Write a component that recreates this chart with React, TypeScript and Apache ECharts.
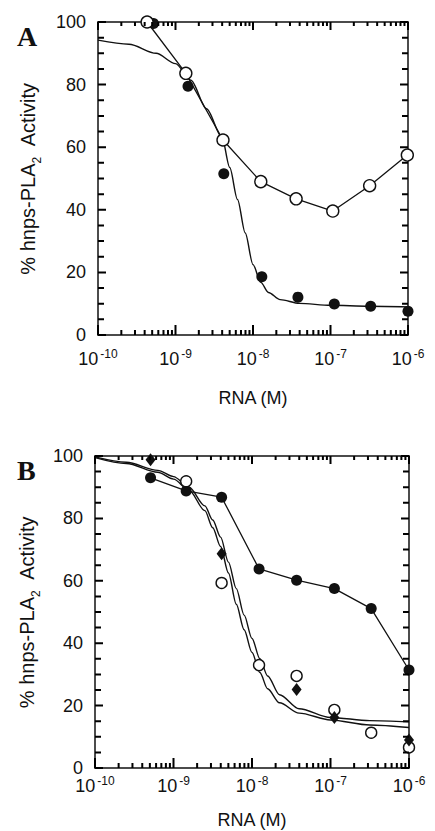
import React, { useEffect, useRef } from "react";
import * as echarts from "echarts";

// ---------- Panel A ----------
const aFilledConc = [5.2e-10, 1.45e-9, 4.2e-9, 1.3e-8, 3.8e-8, 1.12e-7, 3.3e-7, 1.0e-6];
const aFilledAct = [99.5, 79.5, 51.5, 18.6, 12.1, 9.9, 9.2, 7.6];
const aOpenConc = [4.3e-10, 1.36e-9, 4.1e-9, 1.26e-8, 3.6e-8, 1.07e-7, 3.2e-7, 9.8e-7];
const aOpenAct = [100, 83.6, 62.3, 49.0, 43.5, 39.6, 47.7, 57.5];
const aFitConc = [1e-10, 2.51e-10, 5.62e-10, 1e-9, 1.58e-9, 2.51e-9, 3.98e-9, 5.01e-9, 6.31e-9, 7.94e-9, 1e-8, 1.26e-8, 1.58e-8, 2.24e-8, 3.98e-8, 1e-7, 3.16e-7, 1e-6];
const aFitAct = [94.2, 92.9, 90.0, 86.7, 81.4, 72.3, 63.2, 53.5, 43.3, 32.6, 22.5, 16.8, 13.6, 11.3, 10.1, 9.5, 9.2, 9.0];

// ---------- Panel B ----------
const bFilledConc = [5.1e-10, 1.45e-9, 4.1e-9, 1.23e-8, 3.7e-8, 1.12e-7, 3.3e-7, 1.0e-6];
const bFilledAct = [93.0, 88.8, 86.8, 63.8, 60.2, 57.5, 51.1, 31.4];
const bDiamondConc = [5.1e-10, 4.1e-9, 3.7e-8, 1.12e-7, 1.0e-6];
const bDiamondAct = [98.8, 68.7, 25.2, 16.2, 9.0];
const bOpenConc = [1.45e-9, 4.1e-9, 1.23e-8, 3.7e-8, 1.12e-7, 3.3e-7, 1.0e-6];
const bOpenAct = [91.9, 59.3, 33.0, 29.5, 18.6, 11.3, 6.6];
const bFitConc = [1e-10, 2.51e-10, 6.31e-10, 1e-9, 1.58e-9, 2.51e-9, 3.16e-9, 3.98e-9, 5.01e-9, 6.31e-9, 7.94e-9, 1e-8, 1.26e-8, 1.58e-8, 2.24e-8, 3.98e-8, 1e-7, 3.16e-7, 1e-6];
const bFit1Act = [99.5, 97.6, 94.8, 92.6, 89.0, 82.5, 77.0, 71.0, 62.5, 52.5, 44.3, 37.0, 30.6, 25.4, 20.9, 17.6, 15.4, 13.8, 13.0];
const bFit2Act = [99.7, 98.0, 95.4, 93.4, 90.0, 84.0, 79.5, 74.0, 66.0, 57.5, 49.0, 41.5, 35.0, 29.5, 23.5, 19.0, 16.2, 15.2, 14.8];

// ---------- Axes ----------
const xExponentMin = -10;
const xExponentMax = -6;
const yMin = 0;
const yMax = 100;
const yStep = 20;
const yMinorStep = 5;
const xAxisTitle = "RNA (M)";
const yAxisTitle = "% hnps-PLA{sub|2}  Activity";
const panelLetters = ["A", "B"];

const FONT = '"Liberation Sans", Arial, Helvetica, sans-serif';
const INK = "#111";

const GRIDS = [
  { left: 98, top: 22, width: 310, height: 313 },
  { left: 95, top: 456, width: 314, height: 312 },
];

const pts = (conc: number[], act: number[]) => conc.map((c, i) => [Math.log10(c), act[i]]);

// x ticks: [position, lenBottom(px), lenTop(px)]
const xTickSpecs: number[][] = [];
for (let d = xExponentMin; d <= xExponentMax; d++) {
  xTickSpecs.push([d, 10, 8]);
  if (d < xExponentMax) {
    for (let k = 2; k <= 9; k++) xTickSpecs.push([d + Math.log10(k), 5, 4]);
  }
}
// y ticks: [value, len(px)]
const yTickSpecs: number[][] = [];
for (let v = yMin; v <= yMax; v += yMinorStep) {
  yTickSpecs.push([v, v % yStep === 0 ? 8 : 6]);
}

function xTickData(g: number) {
  const yPerPx = (yMax - yMin) / GRIDS[g].height;
  const out: any[] = [];
  xTickSpecs.forEach((t) => {
    out.push([t[0], yMin], [t[0], yMin + t[1] * yPerPx], [t[0], "-"]);
    out.push([t[0], yMax], [t[0], yMax - t[2] * yPerPx], [t[0], "-"]);
  });
  return out;
}

function yTickData(g: number) {
  const xPerPx = (xExponentMax - xExponentMin) / GRIDS[g].width;
  const out: any[] = [];
  yTickSpecs.forEach((t) => {
    out.push([xExponentMin, t[0]], [xExponentMin + t[1] * xPerPx, t[0]], [xExponentMin, "-"]);
    out.push([xExponentMax, t[0]], [xExponentMax - t[1] * xPerPx, t[0]], [xExponentMax, "-"]);
  });
  return out;
}

function tickSeries(data: any[], xIdx: number, yIdx: number) {
  return {
    type: "line",
    xAxisIndex: xIdx,
    yAxisIndex: yIdx,
    data,
    symbol: "none",
    lineStyle: { color: "#000", width: 2 },
    z: 10,
  };
}

function xAxesFor(g: number, labelMargin: number, nameGap: number) {
  const base: any = {
    gridIndex: g,
    type: "value",
    min: xExponentMin,
    max: xExponentMax,
    interval: 1,
    splitLine: { show: false },
    axisTick: { show: false },
    axisLine: { show: true, onZero: false, lineStyle: { color: INK, width: 1.5 } },
  };
  return [
    {
      ...base,
      position: "bottom",
      axisLabel: {
        show: true,
        margin: labelMargin,
        showMinLabel: true,
        showMaxLabel: true,
        formatter: (v: number) => `{b|10}{s|${Math.round(v)}}`,
        rich: {
          b: { fontSize: 18, fontFamily: FONT, color: INK, lineHeight: 22 },
          s: { fontSize: 12, fontFamily: FONT, color: INK, lineHeight: 14, verticalAlign: "top", padding: [0, 0, 0, 2] },
        },
      },
      name: xAxisTitle,
      nameLocation: "middle",
      nameGap,
      nameTextStyle: { fontSize: 18, fontFamily: FONT, color: INK },
    },
    { ...base, position: "top", axisLabel: { show: false } },
  ];
}

function yAxesFor(g: number, nameGap: number) {
  const base: any = {
    gridIndex: g,
    type: "value",
    min: yMin,
    max: yMax,
    interval: yStep,
    splitLine: { show: false },
    axisTick: { show: false },
    axisLine: { show: true, onZero: false, lineStyle: { color: INK, width: 1.5 } },
  };
  return [
    {
      ...base,
      position: "left",
      axisLabel: { show: true, margin: 12, fontSize: 18, fontFamily: FONT, color: INK },
      name: yAxisTitle,
      nameLocation: "middle",
      nameRotate: 90,
      nameGap,
      nameTextStyle: {
        fontSize: 20,
        fontFamily: FONT,
        color: INK,
        lineHeight: 30,
        rich: { sub: { fontSize: 12, fontFamily: FONT, color: INK, lineHeight: 12, verticalAlign: "bottom" } },
      },
    },
    { ...base, position: "right", axisLabel: { show: false } },
  ];
}

function fitSeries(xIdx: number, yIdx: number, conc: number[], act: number[]) {
  return {
    type: "line", xAxisIndex: xIdx, yAxisIndex: yIdx, data: pts(conc, act),
    smooth: 0.3, smoothMonotone: "x", symbol: "none",
    lineStyle: { color: INK, width: 1.4 }, z: 2, clip: false,
  };
}

export default function App() {
  const ref = useRef<HTMLDivElement>(null);
  useEffect(() => {
    if (!ref.current) return;
    const chart = echarts.init(ref.current, null, { renderer: "svg" });
    const letterFont = 'bold 28px "Liberation Serif", "Times New Roman", serif';
    const option: any = {
      animation: false,
      backgroundColor: "#fff",
      grid: GRIDS.map((gr) => ({ ...gr })),
      xAxis: [...xAxesFor(0, 13, 54), ...xAxesFor(1, 7, 43)],
      yAxis: [...yAxesFor(0, 55), ...yAxesFor(1, 52)],
      graphic: [
        { type: "text", left: 17, top: 22, style: { text: panelLetters[0], font: letterFont, fill: INK } },
        { type: "text", left: 17, top: 456, style: { text: panelLetters[1], font: letterFont, fill: INK } },
      ],
      series: [
        // Panel A
        tickSeries(xTickData(0), 0, 0),
        tickSeries(yTickData(0), 0, 0),
        fitSeries(0, 0, aFitConc, aFitAct),
        {
          type: "scatter", xAxisIndex: 0, yAxisIndex: 0, data: pts(aFilledConc, aFilledAct),
          symbol: "circle", symbolSize: 11, itemStyle: { color: INK, opacity: 1 }, z: 3, clip: false,
        },
        {
          type: "line", xAxisIndex: 0, yAxisIndex: 0, data: pts(aOpenConc, aOpenAct),
          symbol: "circle", symbolSize: 12, showSymbol: true, lineStyle: { color: INK, width: 1.3 },
          itemStyle: { color: "#fff", borderColor: INK, borderWidth: 1.4, opacity: 1 }, z: 4, clip: false,
        },
        // Panel B
        tickSeries(xTickData(1), 2, 2),
        tickSeries(yTickData(1), 2, 2),
        fitSeries(2, 2, bFitConc, bFit1Act),
        fitSeries(2, 2, bFitConc, bFit2Act),
        {
          type: "line", xAxisIndex: 2, yAxisIndex: 2, data: pts(bFilledConc, bFilledAct),
          symbol: "circle", symbolSize: 11, showSymbol: true, lineStyle: { color: INK, width: 1.3 },
          itemStyle: { color: INK, opacity: 1 }, z: 3, clip: false,
        },
        {
          type: "scatter", xAxisIndex: 2, yAxisIndex: 2, data: pts(bOpenConc, bOpenAct),
          symbol: "circle", symbolSize: 11, itemStyle: { color: "#fff", borderColor: INK, borderWidth: 1.4, opacity: 1 }, z: 4, clip: false,
        },
        {
          type: "scatter", xAxisIndex: 2, yAxisIndex: 2, data: pts(bDiamondConc, bDiamondAct),
          symbol: "diamond", symbolSize: [10, 13], itemStyle: { color: INK, opacity: 1 }, z: 5, clip: false,
        },
      ],
    };
    chart.setOption(option);
    return () => chart.dispose();
  }, []);
  return (
    <div
      ref={ref}
      style={{ position: "absolute", left: 0, top: 0, width: 435, height: 831, background: "#fff" }}
    />
  );
}
